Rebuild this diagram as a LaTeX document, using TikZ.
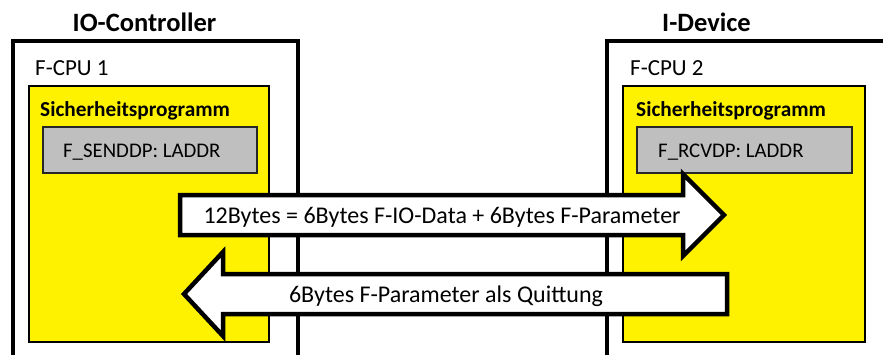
\documentclass[tikz,border=0pt]{standalone}
\usepackage{fontspec}
\setmainfont{Carlito}
\usetikzlibrary{positioning}

\begin{document}
\begin{tikzpicture}[x=1pt,y=-1pt,
  device/.style={rectangle,draw,line width=4pt,fill=white,outer sep=0pt,inner sep=0pt,anchor=north west},
  safety/.style={rectangle,draw,line width=2pt,fill=yellow,outer sep=0pt,inner sep=0pt,anchor=north west},
  block/.style={rectangle,draw=black!85,line width=2.5pt,fill=black!25,outer sep=0pt,anchor=west,inner sep=0pt},
  title/.style={font=\fontsize{26.5}{30}\selectfont\bfseries,anchor=base,inner sep=0pt},
  cpulabel/.style={font=\fontsize{23}{26}\selectfont,anchor=base west,inner sep=0pt},
  proglabel/.style={font=\fontsize{21.3}{24}\selectfont\bfseries,anchor=base west,inner sep=0pt},
  fblabel/.style={font=\fontsize{20.8}{24}\selectfont,anchor=base west,inner sep=0pt},
  msglabel/.style={font=\fontsize{24}{28}\selectfont,anchor=base,inner sep=0pt},
  bigarrow/.style={draw,line width=4.5pt,fill=white,miter limit=20},
]
\useasboundingbox (0,0) rectangle (883,354);
\clip (0,0) rectangle (883,354);

% === IO-CONTROLLER ===
\node[title] (ctrltitle) at (144.5,31) {IO-Controller};
\node[device,minimum width=285pt,minimum height=360pt] (ctrl) at (13,41) {};
\node[cpulabel] (cpu1) at (35,75) {F-CPU 1};
\node[safety,minimum width=240pt,minimum height=256pt] (prog1) at (29,86) {};
\node[proglabel] (prog1label) at (40,116) {Sicherheitsprogramm};
\node[block,minimum width=214pt,minimum height=46pt] (send) at (43,150) {};
\node[fblabel] (sendlabel) at (63,157) {F\_SENDDP: LADDR};

% === I-DEVICE ===
\node[title] (devtitle) at (706.5,31) {I-Device};
\node[device,minimum width=300pt,minimum height=360pt] (dev) at (607,41) {};
\node[cpulabel] (cpu2) at (630,75) {F-CPU 2};
\node[safety,minimum width=242pt,minimum height=256pt] (prog2) at (623,86) {};
\node[proglabel] (prog2label) at (636,116) {Sicherheitsprogramm};
\node[block,minimum width=215pt,minimum height=46pt] (rcv) at (637,150) {};
\node[fblabel] (rcvlabel) at (658,157) {F\_RCVDP: LADDR};

% Data telegram and acknowledgement
\draw[bigarrow] (180,195) -- (683,195) -- (683,174) -- (724,215)
  -- (683,256) -- (683,235) -- (180,235) -- cycle;
\node[msglabel] (data) at (442,223) {12Bytes = 6Bytes F-IO-Data + 6Bytes F-Parameter};

\draw[bigarrow] (727,274) -- (223,274) -- (223,252) -- (184,294)
  -- (223,336) -- (223,314) -- (727,314) -- cycle;
\node[msglabel] (ack) at (446,302) {6Bytes F-Parameter als Quittung};

\end{tikzpicture}
\end{document}
